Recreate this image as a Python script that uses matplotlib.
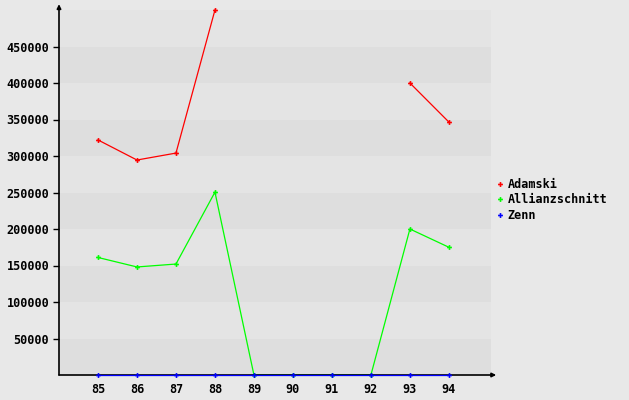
import matplotlib
matplotlib.use('Agg')
import matplotlib.pyplot as plt
from matplotlib.lines import Line2D
import numpy as np

years = [85, 86, 87, 88, 89, 90, 91, 92, 93, 94]
adamski = [322000, 294500, 304000, 500000, np.nan, np.nan, np.nan, np.nan, 400000, 346500]
allianz = [161000, 148000, 152000, 250500, 0, 0, 0, 0, 200000, 175000]
zenn = [0, 0, 0, 0, 0, 0, 0, 0, 0, 0]
yticks = [50000, 100000, 150000, 200000, 250000, 300000, 350000, 400000, 450000]
names = ['Adamski', 'Allianzschnitt', 'Zenn']
colors = ['#ff0000', '#00ff00', '#0000ff']

plt.rcParams['font.family'] = 'DejaVu Sans Mono'
plt.rcParams['font.weight'] = 'bold'
plt.rcParams['font.size'] = 8.5

fig = plt.figure(figsize=(6.29, 4.0), dpi=100, facecolor='#e8e8e8')
ax = fig.add_axes([59/629, 25/400, 432/629, 365/400])
ax.set_facecolor('#e8e8e8')
ax.set_xlim(84, 95.08)
ax.set_ylim(0, 500000)

# alternating bands
for i, lo in enumerate(range(0, 500000, 50000)):
    col = '#dedede' if i % 2 == 0 else '#e4e4e4'
    ax.axhspan(lo, lo + 50000, color=col, lw=0, zorder=0)

for vals, c, z in zip([adamski, allianz, zenn], colors, [3, 3, 4]):
    ax.plot(years, vals, color=c, lw=0.9, marker='P', ms=3.5, mew=0, clip_on=False, zorder=z)

for s in ax.spines.values():
    s.set_visible(False)
ax.annotate('', xy=(0, 1.016), xytext=(0, 0), xycoords='axes fraction',
            arrowprops=dict(arrowstyle='-|>', color='black', lw=1.2, mutation_scale=6, shrinkA=0, shrinkB=0), annotation_clip=False)
ax.annotate('', xy=(1.012, 0), xytext=(0, 0), xycoords='axes fraction',
            arrowprops=dict(arrowstyle='-|>', color='black', lw=1.2, mutation_scale=6, shrinkA=0, shrinkB=0), annotation_clip=False)

ax.set_xticks(years)
ax.set_xticklabels([str(y) for y in years])
ax.set_yticks(yticks)
ax.set_yticklabels([str(v) for v in yticks])
ax.tick_params(axis='x', length=0, pad=6)
ax.tick_params(axis='y', length=4, width=1, direction='out', pad=3)

handles = [Line2D([], [], color=c, ls='none', marker='P', ms=3.5, mew=0) for c in colors]
fig.legend(handles, names, loc='upper left', bbox_to_anchor=(497/629, 1 - 178/400), frameon=False,
           handlelength=0.5, handletextpad=0.4, labelspacing=0.2, borderaxespad=0, borderpad=0,
           fontsize=8.5)

fig.savefig('out.png', dpi=100, facecolor='#e8e8e8')
